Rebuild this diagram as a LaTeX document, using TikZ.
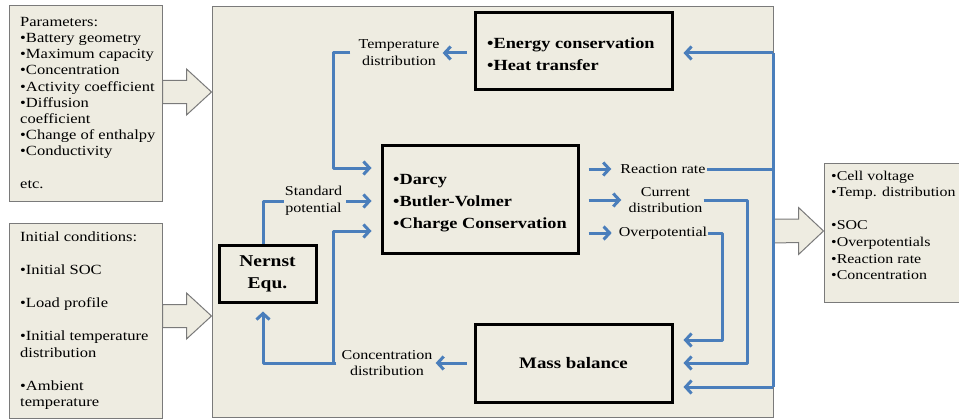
\documentclass[tikz,border=0pt]{standalone}
\usepackage{fontspec}
\setmainfont{Liberation Serif}[FakeStretch=1.18]
\usetikzlibrary{arrows.meta,calc,shadows}
\definecolor{panelfill}{HTML}{EEECE1}
\definecolor{panelline}{HTML}{7A7A7A}
\definecolor{flowblue}{HTML}{4A7EBB}
\newcommand{\fsz}[2]{\fontsize{#1}{#2}\selectfont}
\begin{document}
\begin{tikzpicture}[x=1pt,y=-1pt,
  panel/.style={draw=panelline, line width=1pt, fill=panelfill, inner sep=0pt, rectangle},
  eqbox/.style={draw=black, line width=3pt, fill=panelfill, inner sep=0pt, rectangle,
    drop shadow={shadow xshift=1.5pt, shadow yshift=-1.5pt, opacity=0.3}},
  bigarrow/.style={draw=panelline, line width=1pt, fill=panelfill, line join=miter},
  ptext/.style={anchor=north west, align=left, inner sep=0pt},
  lbl/.style={align=center, inner sep=1pt, font=\fsz{13.6}{16.8}},
  flowline/.style={draw=flowblue, line width=3pt, line join=round},
  flow/.style={flowline, -{Straight Barb[length=6pt,width=13pt]}}
]
\useasboundingbox (0,0) rectangle (959,420);
\fill[white] (0,0) rectangle (959,420);

% outer panels
\node[panel, minimum width=153pt, minimum height=195pt] (params) at (85.5,103.5) {};
\node[panel, minimum width=153pt, minimum height=195pt] (init) at (85.5,320.5) {};
\node[panel, minimum width=561pt, minimum height=410pt] (main) at (492.5,212) {};
\node[panel, minimum width=146pt, minimum height=139pt] (out) at (897,232.5) {};

\node[ptext, font=\fsz{14}{16.2}] (paramstext) at (20,17) {Parameters:\\•Battery geometry\\•Maximum capacity\\•Concentration\\•Activity coefficient\\•Diffusion\\coefficient\\•Change of enthalpy\\•Conductivity\\[16.2pt]etc.};
\node[ptext, font=\fsz{14}{16.5}] (inittext) at (20,232) {Initial conditions:\\[16.5pt]•Initial SOC\\[16.5pt]•Load profile\\[16.5pt]•Initial temperature\\distribution\\[16.5pt]•Ambient\\temperature};
\node[ptext, font=\fsz{13.5}{16.6}] (outtext) at (831,170.5) {•Cell voltage\\•Temp. distribution\\[16.6pt]•SOC\\•Overpotentials\\•Reaction rate\\•Concentration};

% big hollow arrows
\coordinate (a1c) at (0,92);
\coordinate (a2c) at (0,316);
\coordinate (a3c) at (0,231);
\draw[bigarrow] ($(params.east |- a1c)+(0,-11.5)$) -- ($(main.west |- a1c)+(-25,-11.5)$) -- ++(0,-11.5) -- (main.west |- a1c) -- ++(-25,23) -- ++(0,-11.5) -- ($(params.east |- a1c)+(0,11.5)$) -- cycle;
\draw[bigarrow] ($(init.east |- a2c)+(0,-11.5)$) -- ($(main.west |- a2c)+(-25,-11.5)$) -- ++(0,-11.5) -- (main.west |- a2c) -- ++(-25,23) -- ++(0,-11.5) -- ($(init.east |- a2c)+(0,11.5)$) -- cycle;
\draw[bigarrow] ($(main.east |- a3c)+(0,-12)$) -- ($(out.west |- a3c)+(-25,-12)$) -- ++(0,-11.5) -- (out.west |- a3c) -- ++(-25,23.5) -- ++(0,-12) -- ($(main.east |- a3c)+(0,12)$) -- cycle;

% equation boxes
\node[eqbox, minimum width=197pt, minimum height=77pt] (energy) at (573.5,51.5) {};
\node[ptext, font=\bfseries\fsz{15.5}{22}] (energytext) at (487,38) {•Energy conservation\\•Heat transfer};
\node[eqbox, minimum width=196pt, minimum height=108pt] (darcy) at (480,199) {};
\node[ptext, font=\bfseries\fsz{15.5}{21.8}] (darcytext) at (393,174.5) {•Darcy\\•Butler-Volmer\\•Charge Conservation};
\node[eqbox, minimum width=97pt, minimum height=57pt, align=center, font=\bfseries\fsz{16.5}{22}] (nernst) at (267.5,273.5) {Nernst\\Equ.};
\node[eqbox, minimum width=197pt, minimum height=78pt, font=\bfseries\fsz{16}{20}] (mass) at (573.5,363) {Mass balance};

% labels
\node[lbl] (tdist) at (399,53) {Temperature\\distribution};
\node[lbl] (stdpot) at (313.5,201) {Standard\\potential};
\node[lbl] (cdist) at (387,363) {Concentration\\distribution};
\node[lbl] (rrate) at (663,169) {Reaction rate};
\node[lbl] (cur) at (665.5,200) {Current\\distribution};
\node[lbl] (ovp) at (663,233) {Overpotential};

% routing points
\coordinate (tbend) at (333,168);
\coordinate (cjoin) at (333,363);
\coordinate (cup) at (333,231);
\coordinate (rtop) at (773,53);
\coordinate (rbot) at (773,387);
\coordinate (curbend) at (747,363);
\coordinate (ovpbend) at (722,340);

% connectors
\draw[flow, shorten <=7pt, shorten >=2pt] (energy.west |- tdist) -- (tdist.east);
\draw[flow, shorten <=7pt, shorten >=9pt] (tdist.west) -| (tbend) -- (tbend -| darcy.west);
\draw[flowline] ([xshift=-4.5pt]nernst.north) |- (stdpot.west);
\draw[flow, shorten <=3pt, shorten >=9pt] (stdpot.east) -- (stdpot.east -| darcy.west);
\draw[flow, shorten <=7pt, shorten >=2pt] (mass.west) -- (mass.west -| cdist.east);
\draw[flow, shorten <=4pt, shorten >=8pt] (cdist.west) -| ([xshift=-4.5pt]nernst.south);
\draw[flow, shorten >=9pt] (cjoin) |- (cup -| darcy.west);
\draw[flow, shorten <=9pt, shorten >=8pt] (darcy.east |- rrate) -- (rrate.west);
\draw[flow, shorten <=9pt, shorten >=6pt] (darcy.east |- cur) -- (cur.west);
\draw[flow, shorten <=9pt, shorten >=6pt] (darcy.east |- ovp) -- (ovp.west);
\draw[flowline] (rrate.east) -- (rrate.east -| rtop);
\draw[flowline] (rtop) -- (rbot);
\draw[flow, shorten >=10pt] (rtop) -- (rtop -| energy.east);
\draw[flow, shorten >=10pt] (rbot) -- (rbot -| mass.east);
\draw[flow, shorten >=10pt] (cur.east) -| (curbend) -- (curbend -| mass.east);
\draw[flow, shorten >=10pt] (ovp.east) -| (ovpbend) -- (ovpbend -| mass.east);
\end{tikzpicture}
\end{document}
